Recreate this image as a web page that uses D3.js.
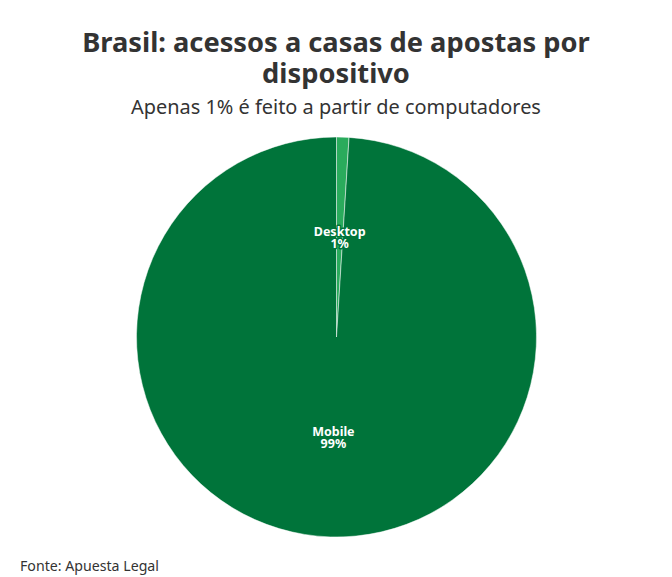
<!DOCTYPE html>
<html><head><meta charset="utf-8">
<script src="https://cdn.jsdelivr.net/npm/d3@7"></script>
<style>body{margin:0;background:#fff;}svg{display:block;font-family:"Noto Sans",sans-serif;}</style>
</head><body>
<svg id="c" width="672" height="577"></svg>
<script>
const categories = ["Desktop", "Mobile"];
const values = [1, 99];
const colors = ["#2aab5c", "#00743a"];

const svg = d3.select("#c");
const W = 672, H = 577;
svg.append("rect").attr("width", W).attr("height", H).attr("fill", "#fff");

function fitText(sel, target) {
  const node = sel.node();
  const w = node.getComputedTextLength();
  const fs = parseFloat(sel.attr("font-size"));
  sel.attr("font-size", fs * target / w);
}

const t1 = svg.append("text").attr("x", 336).attr("y", 52).attr("text-anchor", "middle")
  .attr("font-size", 26).attr("font-weight", 700).attr("fill", "#333")
  .text("Brasil: acessos a casas de apostas por");
fitText(t1, 508);
svg.append("text").attr("x", 336).attr("y", 83).attr("text-anchor", "middle")
  .attr("font-size", t1.attr("font-size")).attr("font-weight", 700).attr("fill", "#333")
  .text("dispositivo");
const t3 = svg.append("text").attr("x", 336).attr("y", 114).attr("text-anchor", "middle")
  .attr("font-size", 18).attr("fill", "#333")
  .text("Apenas 1% é feito a partir de computadores");
fitText(t3, 410);
const t4 = svg.append("text").attr("x", 20).attr("y", 571)
  .attr("font-size", 13).attr("fill", "#333")
  .text("Fonte: Apuesta Legal");
fitText(t4, 139);

const cx = 336.5, cy = 337, r = 200;
const data = categories.map((c, i) => ({cat: c, val: values[i], col: colors[i]}));
const pie = d3.pie().value(d => d.val).sort(null);
const arc = d3.arc().innerRadius(0).outerRadius(r);
const labelArc = d3.arc().innerRadius(r * 0.5).outerRadius(r * 0.5);
const arcs = pie(data);
const g = svg.append("g").attr("transform", `translate(${cx},${cy})`);
g.selectAll("path").data(arcs).join("path")
  .attr("d", arc).attr("fill", d => d.data.col)
  .attr("stroke", "#fff").attr("stroke-width", 0.5);

const lab = g.selectAll("text.lab").data(arcs).join("text").attr("class", "lab")
  .attr("transform", d => `translate(${labelArc.centroid(d)})`)
  .attr("text-anchor", "middle")
  .attr("font-size", 12.5).attr("font-weight", 700)
  .attr("fill", "#fff")
  .attr("stroke", "#00743a").attr("stroke-width", 3).attr("stroke-linejoin", "round")
  .style("paint-order", "stroke");
lab.append("tspan").attr("x", 0).attr("dy", "-0.1em").text(d => d.data.cat);
lab.append("tspan").attr("x", 0).attr("dy", "0.95em").text(d => d.data.val + "%");
</script>
</body></html>
